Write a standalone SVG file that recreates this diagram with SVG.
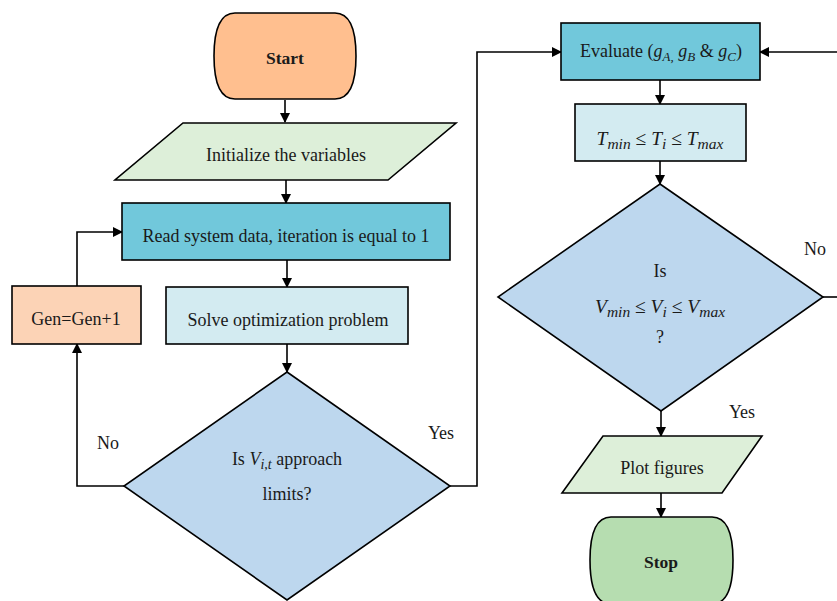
<svg xmlns="http://www.w3.org/2000/svg" width="837" height="601" viewBox="0 0 837 601">
<style>
.n{stroke:#000;stroke-width:1.6}
.t{font-family:"Liberation Serif","Times New Roman",serif;font-size:18px;fill:#1a1a1a;text-anchor:middle}
.b{font-weight:bold;font-size:17.5px}
.m{font-style:italic}
.s{font-size:13px}
.ms{font-size:14px}
.eq{font-size:19.5px}
.eq .ms{font-size:15.5px}
.c{fill:none;stroke:#000;stroke-width:1.6}
</style>
<defs>
<marker id="ah" markerWidth="10" markerHeight="10" refX="9" refY="5" orient="auto" markerUnits="userSpaceOnUse">
<path d="M0,0 L10,5 L0,10 Z" fill="#000"/>
</marker>
</defs>
<rect width="837" height="601" fill="#fff"/>
<g id="connectors">
<path class="c" d="M285,100 V122" marker-end="url(#ah)"/>
<path class="c" d="M286,180 V203" marker-end="url(#ah)"/>
<path class="c" d="M287,260 V287" marker-end="url(#ah)"/>
<path class="c" d="M287,344 V372" marker-end="url(#ah)"/>
<path class="c" d="M77,286 V232 H122" marker-end="url(#ah)"/>
<path class="c" d="M124,486 H77 V344" marker-end="url(#ah)"/>
<path class="c" d="M450,486 H477 V52 H561" marker-end="url(#ah)"/>
<path class="c" d="M837,52 H760" marker-end="url(#ah)"/>
<path class="c" d="M660,80 V104" marker-end="url(#ah)"/>
<path class="c" d="M660,161 V184" marker-end="url(#ah)"/>
<path class="c" d="M823,297 H837"/>
<path class="c" d="M661,411 V436" marker-end="url(#ah)"/>
<path class="c" d="M661,493 V517" marker-end="url(#ah)"/>
<text class="t" x="108" y="449">No</text>
<text class="t" x="441" y="439">Yes</text>
<text class="t" x="815" y="255">No</text>
<text class="t" x="742" y="418">Yes</text>
</g>
<g id="start">
<path class="n" fill="#FFBF8F" d="M235,13 H335 C350,13 356,30 356,56 C356,82 350,99 335,99 H235 C220,99 214,82 214,56 C214,30 220,13 235,13 Z"/>
<text class="t b" x="285" y="64">Start</text>
</g>
<g id="init">
<path class="n" fill="#DDEFD9" d="M183,123 H456 L388,180 H115 Z"/>
<text class="t" x="286" y="161">Initialize the variables</text>
</g>
<g id="read">
<rect class="n" fill="#71C8DB" x="122" y="203" width="328" height="57"/>
<text class="t" x="286" y="242">Read system data, iteration is equal to 1</text>
</g>
<g id="solve">
<rect class="n" fill="#D3EBF1" x="166" y="287" width="242" height="57"/>
<text class="t" x="288" y="326">Solve optimization problem</text>
</g>
<g id="gen">
<rect class="n" fill="#FCD3B6" x="12" y="286" width="129" height="58"/>
<text class="t" x="76" y="325">Gen=Gen+1</text>
</g>
<g id="check1">
<path class="n" fill="#BDD7EE" d="M287,372 L450,486 L287,600 L124,486 Z"/>
<text class="t" x="287" y="465">Is <tspan class="m">V</tspan><tspan class="m ms" dy="4">i,t</tspan><tspan dy="-4"> approach</tspan></text>
<text class="t" x="287" y="500">limits?</text>
</g>
<g id="evaluate">
<rect class="n" fill="#71C8DB" x="561" y="23" width="199" height="57"/>
<text class="t" x="661" y="57">Evaluate (<tspan class="m">g</tspan><tspan class="m s" dy="4">A,</tspan><tspan dy="-4"> </tspan><tspan class="m">g</tspan><tspan class="m s" dy="4">B</tspan><tspan dy="-4"> &amp; </tspan><tspan class="m">g</tspan><tspan class="m s" dy="4">C</tspan><tspan dy="-4">)</tspan></text>
</g>
<g id="tlimits">
<rect class="n" fill="#D3EBF1" x="575" y="104" width="171" height="57"/>
<text class="t eq" x="660" y="145"><tspan class="m">T</tspan><tspan class="m ms" dy="4">min</tspan><tspan dy="-4"> ≤ </tspan><tspan class="m">T</tspan><tspan class="m ms" dy="4">i</tspan><tspan dy="-4"> ≤ </tspan><tspan class="m">T</tspan><tspan class="m ms" dy="4">max</tspan></text>
</g>
<g id="check2">
<path class="n" fill="#BDD7EE" d="M660,184 L823,297 L661,411 L498,297 Z"/>
<text class="t" x="660" y="277">Is</text>
<text class="t eq" x="660" y="313"><tspan class="m">V</tspan><tspan class="m ms" dy="4">min</tspan><tspan dy="-4"> ≤ </tspan><tspan class="m">V</tspan><tspan class="m ms" dy="4">i</tspan><tspan dy="-4"> ≤ </tspan><tspan class="m">V</tspan><tspan class="m ms" dy="4">max</tspan></text>
<text class="t" x="660" y="343">?</text>
</g>
<g id="plot">
<path class="n" fill="#DDEFD9" d="M603,436 H762 L722,493 H562 Z"/>
<text class="t" x="662" y="474">Plot figures</text>
</g>
<g id="stop">
<path class="n" fill="#B6DDB0" d="M611,517 H712 C727,517 733,534 733,560 C733,586 727,604 712,604 H611 C596,604 590,586 590,560 C590,534 596,517 611,517 Z"/>
<text class="t b" x="661" y="568">Stop</text>
</g>
</svg>
